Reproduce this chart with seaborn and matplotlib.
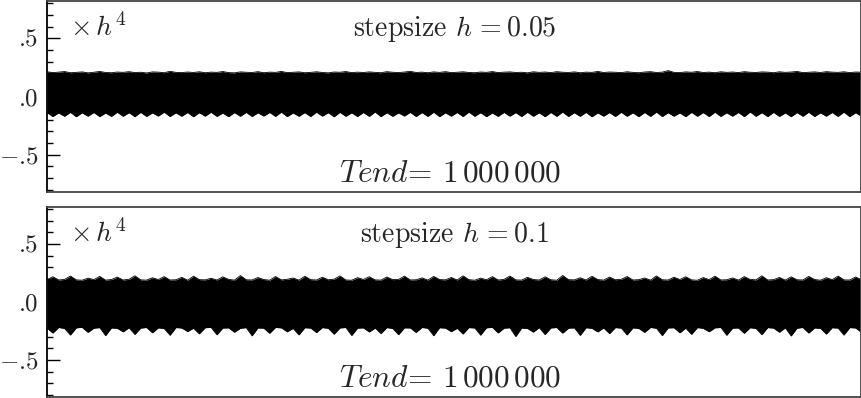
import numpy as np
import pandas as pd
import matplotlib
matplotlib.use("Agg")
import matplotlib.pyplot as plt
import seaborn as sns
from matplotlib.ticker import FixedLocator, FixedFormatter, MultipleLocator

# ---------------- data (envelope of the oscillation) -------------
t_end = 1_000_000
ytick_values = [-0.5, 0.0, 0.5]
ytick_labels = [r"$-$.5", ".0", ".5"]
titles = [r"stepsize $h\,=0.05$", r"stepsize $h\,=0.1$"]
tend_label = r"$Tend\!=\,$1$\,$000$\,$000"
scale_label = r"$\times\, h^4$"

upper_h005 = [
    0.212, 0.205, 0.209, 0.214, 0.204, 0.207, 0.211, 0.203, 0.208, 0.215, 0.206, 0.204, 0.210, 0.207,
    0.213, 0.205, 0.208, 0.202, 0.211, 0.209, 0.204, 0.216, 0.207, 0.205, 0.210, 0.206, 0.212, 0.204,
    0.209, 0.207, 0.214, 0.205, 0.203, 0.211, 0.208, 0.206, 0.213, 0.204, 0.209, 0.207, 0.215, 0.205,
    0.208, 0.211, 0.204, 0.207, 0.212, 0.206, 0.203, 0.210, 0.208, 0.214, 0.205, 0.209, 0.206, 0.211,
    0.207, 0.204, 0.213, 0.208, 0.205, 0.210, 0.216, 0.206, 0.209, 0.204, 0.211, 0.207, 0.213, 0.205,
    0.208, 0.212, 0.206, 0.204, 0.210, 0.207, 0.214, 0.205, 0.209, 0.211, 0.206, 0.208, 0.203, 0.212,
    0.207, 0.210, 0.205, 0.213, 0.208, 0.206, 0.211, 0.204, 0.209, 0.207, 0.215, 0.206, 0.210, 0.208,
    0.205, 0.212, 0.207, 0.204, 0.210, 0.213, 0.206, 0.209, 0.222, 0.207, 0.205, 0.211, 0.208, 0.214,
    0.206, 0.209, 0.204, 0.212, 0.207, 0.210, 0.205, 0.213, 0.208, 0.206, 0.211, 0.209, 0.204, 0.212,
    0.207, 0.210, 0.215, 0.205, 0.208, 0.211, 0.206, 0.213, 0.209, 0.207, 0.212, 0.205, 0.210, 0.208,
]
lower_h005 = [
    -0.138, -0.172, -0.141, -0.170, -0.136, -0.174, -0.140, -0.169, -0.137, -0.173, -0.142, -0.171, -0.135, -0.170,
    -0.139, -0.173, -0.136, -0.171, -0.141, -0.168, -0.134, -0.172, -0.140, -0.170, -0.137, -0.174, -0.139, -0.169,
    -0.135, -0.171, -0.142, -0.173, -0.138, -0.170, -0.136, -0.172, -0.140, -0.168, -0.137, -0.171, -0.134, -0.173,
    -0.141, -0.170, -0.138, -0.172, -0.135, -0.169, -0.139, -0.174, -0.136, -0.170, -0.140, -0.172, -0.137, -0.171,
    -0.133, -0.173, -0.139, -0.170, -0.141, -0.168, -0.136, -0.172, -0.138, -0.171, -0.135, -0.173, -0.140, -0.169,
    -0.137, -0.172, -0.134, -0.170, -0.139, -0.173, -0.141, -0.171, -0.136, -0.169, -0.138, -0.172, -0.135, -0.170,
    -0.140, -0.173, -0.137, -0.171, -0.133, -0.172, -0.139, -0.170, -0.136, -0.174, -0.141, -0.169, -0.138, -0.172,
    -0.135, -0.170, -0.140, -0.173, -0.137, -0.171, -0.134, -0.172, -0.139, -0.169, -0.141, -0.173, -0.136, -0.170,
    -0.138, -0.172, -0.135, -0.171, -0.140, -0.169, -0.137, -0.173, -0.133, -0.170, -0.139, -0.172, -0.136, -0.171,
    -0.141, -0.173, -0.138, -0.170, -0.135, -0.172, -0.140, -0.169, -0.137, -0.171, -0.134, -0.173, -0.139, -0.170,
]
upper_h01 = [
    0.192, 0.218, 0.190, 0.195, 0.224, 0.191, 0.188, 0.206, 0.193, 0.221, 0.189, 0.194, 0.215, 0.190,
    0.196, 0.226, 0.191, 0.189, 0.209, 0.194, 0.219, 0.190, 0.192, 0.213, 0.188, 0.223, 0.193, 0.191,
    0.205, 0.190, 0.217, 0.195, 0.189, 0.228, 0.192, 0.190, 0.211, 0.194, 0.188, 0.220, 0.191, 0.196,
    0.207, 0.189, 0.222, 0.193, 0.190, 0.214, 0.192, 0.197, 0.225, 0.190, 0.188, 0.210, 0.194, 0.218,
    0.191, 0.189, 0.216, 0.193, 0.195, 0.223, 0.190, 0.192, 0.208, 0.189, 0.221, 0.194, 0.191, 0.212,
    0.190, 0.226, 0.193, 0.188, 0.206, 0.192, 0.219, 0.190, 0.195, 0.224, 0.191, 0.189, 0.213, 0.194,
    0.190, 0.217, 0.192, 0.188, 0.229, 0.193, 0.191, 0.209, 0.190, 0.222, 0.194, 0.189, 0.215, 0.192,
    0.196, 0.220, 0.190, 0.193, 0.207, 0.189, 0.225, 0.192, 0.190, 0.214, 0.194, 0.218, 0.191, 0.188,
    0.211, 0.193, 0.223, 0.190, 0.192, 0.208, 0.189, 0.219, 0.195, 0.191, 0.226, 0.190, 0.193, 0.212,
    0.189, 0.217, 0.192, 0.190, 0.221, 0.194, 0.188, 0.210, 0.193, 0.224, 0.191, 0.190, 0.216, 0.192,
]
lower_h01 = [
    -0.225, -0.268, -0.220, -0.228, -0.285, -0.223, -0.219, -0.262, -0.226, -0.221, -0.290, -0.224, -0.227, -0.258,
    -0.222, -0.280, -0.225, -0.220, -0.266, -0.223, -0.229, -0.287, -0.221, -0.224, -0.255, -0.226, -0.275, -0.222,
    -0.219, -0.283, -0.225, -0.223, -0.261, -0.227, -0.221, -0.292, -0.224, -0.226, -0.270, -0.220, -0.223, -0.257,
    -0.228, -0.284, -0.222, -0.225, -0.264, -0.221, -0.227, -0.278, -0.224, -0.220, -0.289, -0.226, -0.223, -0.259,
    -0.225, -0.272, -0.221, -0.228, -0.282, -0.223, -0.224, -0.263, -0.220, -0.226, -0.291, -0.222, -0.225, -0.256,
    -0.227, -0.276, -0.221, -0.224, -0.286, -0.223, -0.219, -0.267, -0.226, -0.222, -0.298, -0.225, -0.228, -0.260,
    -0.221, -0.281, -0.224, -0.220, -0.269, -0.226, -0.223, -0.288, -0.222, -0.227, -0.258, -0.224, -0.273, -0.221,
    -0.225, -0.284, -0.223, -0.228, -0.262, -0.220, -0.226, -0.290, -0.224, -0.222, -0.266, -0.225, -0.279, -0.221,
    -0.227, -0.257, -0.223, -0.220, -0.287, -0.226, -0.224, -0.270, -0.222, -0.228, -0.282, -0.221, -0.225, -0.261,
    -0.223, -0.293, -0.226, -0.220, -0.268, -0.224, -0.227, -0.277, -0.222, -0.225, -0.285, -0.221, -0.224, -0.263,
]

# ---------------- style ----------------
sns.set_theme(style="white")
plt.rcParams["mathtext.fontset"] = "cm"
plt.rcParams["font.family"] = ["cmr10", "DejaVu Serif"]
plt.rcParams["axes.unicode_minus"] = False

fig = plt.figure(figsize=(8.62, 3.98), dpi=100)
ax1 = fig.add_axes([0.0545, 0.5176, 0.9449, 0.4800])
ax2 = fig.add_axes([0.0545, 0.0025, 0.9449, 0.4774])

panels = [(ax1, upper_h005, lower_h005, titles[0]),
          (ax2, upper_h01, lower_h01, titles[1])]
for ax, up, lo, title in panels:
    t = np.linspace(0, t_end, len(up))
    df = pd.DataFrame({"t": np.concatenate([t, t]),
                       "err": np.concatenate([up, lo]),
                       "edge": ["upper"] * len(up) + ["lower"] * len(lo)})
    ax.fill_between(t, lo, up, color="black", linewidth=0)
    sns.lineplot(data=df, x="t", y="err", units="edge", estimator=None,
                 color="black", linewidth=0.6, ax=ax, legend=False)
    ax.set_xlim(0, t_end)
    ax.set_ylim(-0.82, 0.82)
    ax.set_xlabel("")
    ax.set_ylabel("")
    ax.set_xticks([])
    ax.yaxis.set_major_locator(FixedLocator(ytick_values))
    ax.yaxis.set_major_formatter(FixedFormatter(ytick_labels))
    ax.yaxis.set_minor_locator(MultipleLocator(0.1))
    ax.tick_params(axis="y", which="major", direction="in", length=9.5, width=1.0,
                   color="black", labelsize=18, pad=6, left=True)
    ax.tick_params(axis="y", which="minor", direction="in", length=4.5, width=1.0,
                   color="black", left=True)
    for s in ax.spines.values():
        s.set_color("#444444")
        s.set_linewidth(1.3)
    ax.spines["left"].set_color("black")
    ax.text(0.028, 0.817, scale_label, transform=ax.transAxes, fontsize=20,
            ha="left", va="baseline")
    ax.text(0.50, 0.817, title, transform=ax.transAxes, fontsize=20,
            ha="center", va="baseline")
    ax.text(0.495, 0.055, tend_label, transform=ax.transAxes, fontsize=22.5,
            ha="center", va="baseline")

fig.savefig("out.png", dpi=100)
